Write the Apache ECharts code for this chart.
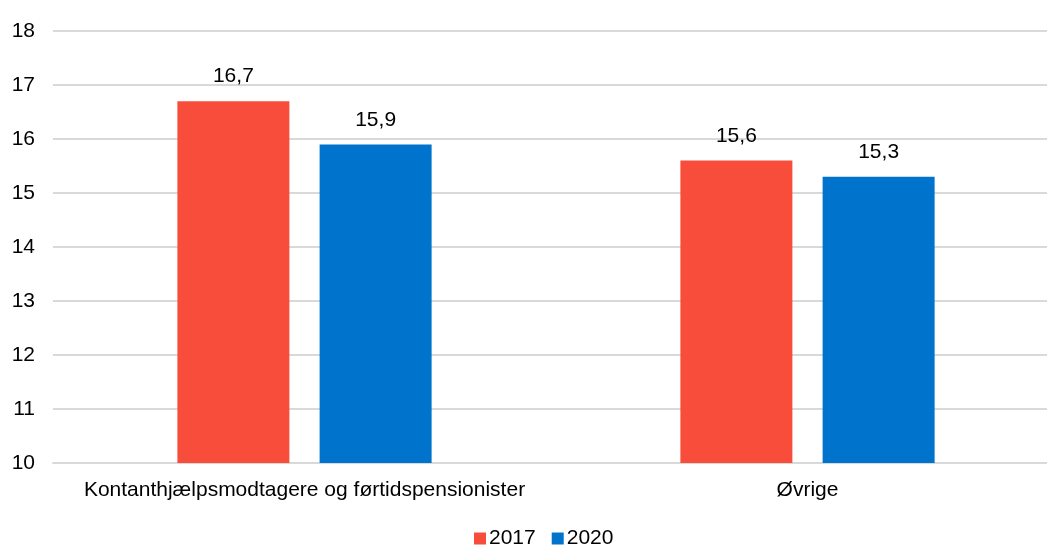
<!DOCTYPE html>
<html><head><meta charset="utf-8">
<script src="https://cdn.jsdelivr.net/npm/echarts@6/dist/echarts.min.js"></script>
<style>html,body{margin:0;padding:0;background:#fff}#c{width:1047px;height:546px}</style>
</head><body><div id="c"></div>
<script>
const categories = ['Kontanthjælpsmodtagere og førtidspensionister', 'Øvrige'];
const seriesNames = ['2017', '2020'];
const values2017 = [16.7, 15.6];
const values2020 = [15.9, 15.3];
const colors = ['#F94D3C', '#0074CC'];
const font = 'Liberation Sans, Arial, sans-serif';
const chart = echarts.init(document.getElementById('c'));
const fmt = p => String(p.value.toFixed(1)).replace('.', ',');
chart.setOption({
  animation: false,
  textStyle: {fontFamily: font},
  grid: {left: 53, top: 31, bottom: 83, right: -12, outerBoundsMode: 'none', containLabel: false},
  legend: {
    top: 528, left: 474, padding: 0, itemWidth: 12, itemHeight: 12, itemGap: 16,
    icon: 'rect',
    textStyle: {fontSize: 21, color: '#000', fontFamily: font, padding: [0, 0, 0, -2]},
    data: seriesNames
  },
  xAxis: {
    type: 'category', data: categories,
    axisLine: {lineStyle: {color: '#d9d9d9', width: 2}},
    axisTick: {show: false},
    axisLabel: {fontSize: 21, color: '#000', margin: 17, fontFamily: font, interval: 0, hideOverlap: false}
  },
  yAxis: {
    type: 'value', min: 10, max: 18, interval: 1,
    axisLine: {show: false}, axisTick: {show: false},
    splitLine: {lineStyle: {color: '#d9d9d9', width: 2}},
    axisLabel: {fontSize: 21, color: '#000', margin: 18, fontFamily: font}
  },
  series: [
    {name: seriesNames[0], type: 'bar', data: values2017, barWidth: 112, barGap: '27%',
     itemStyle: {color: colors[0]},
     label: {show: true, position: 'top', distance: 14, fontSize: 21, color: '#000', formatter: fmt, fontFamily: font}},
    {name: seriesNames[1], type: 'bar', data: values2020, barWidth: 112, barGap: '27%',
     itemStyle: {color: colors[1]},
     label: {show: true, position: 'top', distance: 14, fontSize: 21, color: '#000', formatter: fmt, fontFamily: font}}
  ]
});
</script></body></html>
